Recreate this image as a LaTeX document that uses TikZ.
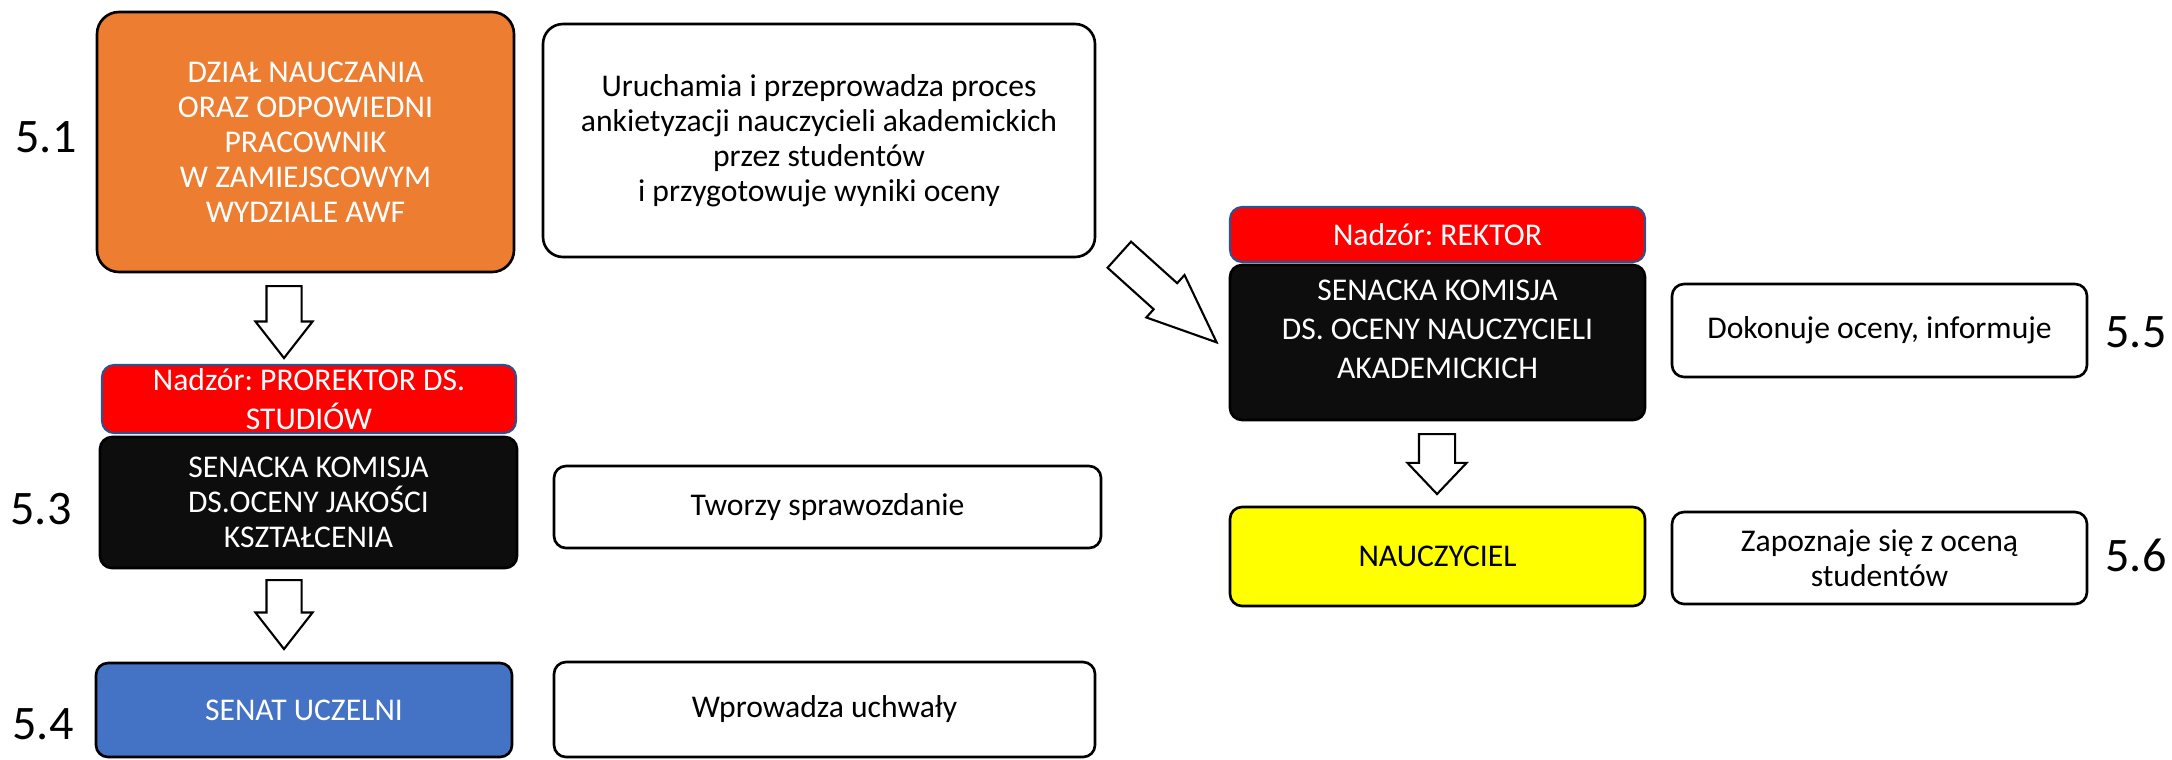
\documentclass[tikz,border=0pt]{standalone}
\usepackage{fontspec}
\setmainfont{Carlito}
\usepackage{tikz}
\usetikzlibrary{positioning,shapes.arrows}
\frenchspacing

\definecolor{cOrange}{HTML}{ED7D31}
\definecolor{cRed}{HTML}{FF0000}
\definecolor{cRedBorder}{HTML}{2F528F}
\definecolor{cBlack}{HTML}{0D0D0D}
\definecolor{cBlue}{HTML}{4472C4}
\definecolor{cYellow}{HTML}{FFFF00}

\begin{document}
\begin{tikzpicture}
[
	xscale	= 1,	% to scale horizontally everything but the text
	yscale	= 1,	% to scale vertically everything but the text
	box/.style	= {shape = rectangle, rounded corners = 0.12cm, draw = black, line width = 0.75pt, align = center, inner sep = 0pt, font = \fontsize{9pt}{9.96pt}\selectfont},
	whitebox/.style	= {box, fill = white, text = black},
	darkbox/.style	= {box, fill = cBlack, text = white},
	redbox/.style	= {box, fill = cRed, draw = cRedBorder, text = white, line width = 0.6pt},
	steplabel/.style	= {font = \fontsize{13.7pt}{15pt}\selectfont},
	blockarrow/.style	= {shape = single arrow, draw = black, fill = white, line width = 0.6pt, inner xsep = 0pt, inner ysep = 0.165cm, minimum width = 0.55cm, single arrow head extend = 0.11cm, anchor = tail},
]

\useasboundingbox (0,0) rectangle (21.72,-7.59);

{
	% nodes declaration
	\node (nDzial) [box, fill = cOrange, text = white, rounded corners = 0.22cm, minimum width = 4.17cm, minimum height = 2.6cm] at (3.055,-1.42) {DZIAŁ NAUCZANIA\\ORAZ ODPOWIEDNI\\PRACOWNIK\\W ZAMIEJSCOWYM\\WYDZIALE AWF};
	\node (nUruchamia) [whitebox, rounded corners = 0.2cm, minimum width = 5.52cm, minimum height = 2.33cm] at (8.19,-1.405) {Uruchamia i przeprowadza proces\\ankietyzacji nauczycieli akademickich\\przez studentów\\i przygotowuje wyniki oceny};
	\node (nNadzorProrektor) [redbox, font = \fontsize{9pt}{11pt}\selectfont, minimum width = 4.14cm, minimum height = 0.68cm] at (3.09,-3.99) {Nadzór: PROREKTOR DS.\\STUDIÓW};
	\node (nKomisjaJakosc) [darkbox, minimum width = 4.17cm, minimum height = 1.31cm] at (3.085,-5.025) {SENACKA KOMISJA\\DS.OCENY JAKOŚCI\\KSZTAŁCENIA};
	\node (nSenat) [box, fill = cBlue, text = white, minimum width = 4.16cm, minimum height = 0.94cm] at (3.04,-7.10) {SENAT UCZELNI};
	\node (nTworzy) [whitebox, minimum width = 5.47cm, minimum height = 0.82cm] at (8.275,-5.07) {Tworzy sprawozdanie};
	\node (nWprowadza) [whitebox, minimum width = 5.41cm, minimum height = 0.95cm] at (8.245,-7.095) {Wprowadza uchwały};

	\node (nNadzorRektor) [redbox, minimum width = 4.15cm, minimum height = 0.55cm] at (14.375,-2.345) {Nadzór: REKTOR};
	\node (nKomisjaOcena) [darkbox, minimum width = 4.15cm, minimum height = 1.55cm] at (14.375,-3.425) {};
	\node (nKomisjaOcenaText) [box, draw = none, text = white, font = \fontsize{9pt}{11.1pt}\selectfont] at (14.375,-3.29) {SENACKA KOMISJA\\DS. OCENY NAUCZYCIELI\\AKADEMICKICH};
	\node (nDokonuje) [whitebox, minimum width = 4.15cm, minimum height = 0.93cm] at (18.795,-3.305) {Dokonuje oceny, informuje};
	\node (nNauczyciel) [box, fill = cYellow, text = black, minimum width = 4.15cm, minimum height = 0.99cm] at (14.375,-5.565) {NAUCZYCIEL};
	\node (nZapoznaje) [whitebox, minimum width = 4.15cm, minimum height = 0.92cm] at (18.795,-5.58) {Zapoznaje się z oceną\\studentów};

	\node (nStepFiveOne) [steplabel] at (0.46,-1.37) {5.1};
	\node (nStepFiveThree) [steplabel] at (0.41,-5.09) {5.3};
	\node (nStepFiveFour) [steplabel] at (0.43,-7.24) {5.4};
	\node (nStepFiveFive) [steplabel] at (21.36,-3.32) {5.5};
	\node (nStepFiveSix) [steplabel] at (21.36,-5.55) {5.6};

	% arrows declaration
	\node (aDzialKomisja) [blockarrow, rotate = -90, minimum height = 0.72cm, single arrow tip angle = 76] at (2.84,-2.85) {};
	\node (aKomisjaSenat) [blockarrow, rotate = -90, minimum height = 0.69cm, single arrow tip angle = 76] at (2.84,-5.79) {};
	\node (aUruchamiaKomisja) [blockarrow, rotate = -42, minimum height = 1.31cm, single arrow tip angle = 45] at (11.185,-2.54) {};
	\node (aKomisjaNauczyciel) [blockarrow, rotate = -90, minimum height = 0.60cm, inner ysep = 0.17cm, minimum width = 0.57cm, single arrow head extend = 0.115cm, single arrow tip angle = 87] at (14.37,-4.33) {};
}

\end{tikzpicture}
\end{document}
